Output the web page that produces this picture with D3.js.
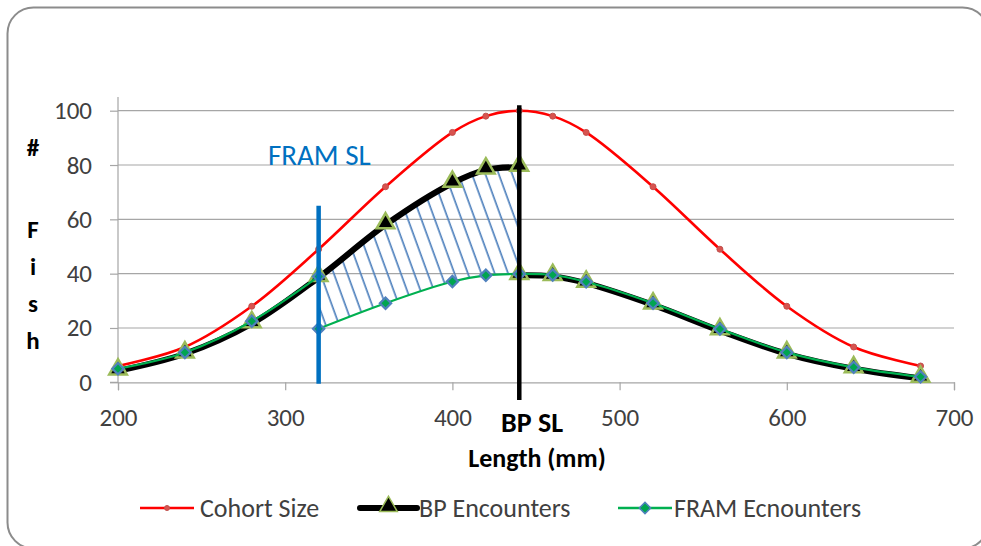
<!DOCTYPE html>
<html>
<head>
<meta charset="utf-8">
<script src="https://cdn.jsdelivr.net/npm/d3@7"></script>
<style>
  body { margin: 0; background: #fff; }
  svg { display: block; font-family: Carlito, Lato, "Open Sans", sans-serif; }
</style>
</head>
<body>
<svg id="chart" width="981" height="546"></svg>
<script>
// Chart values
const lengths = [200, 240, 280, 320, 360, 400, 420, 440, 460, 480, 520, 560, 600, 640, 680];
const cohortSize = [6, 13, 28, 49, 72, 92, 98, 100, 98, 92, 72, 49, 28, 13, 6];

// BP and FRAM have a repeated length where they jump at the size limit
const bpLengths = [200, 240, 280, 320, 360, 400, 420, 440, 440, 460, 480, 520, 560, 600, 640, 680];
const bpEncounters = [4.2, 10.5, 21.6, 38.6, 58, 73.3, 78.2, 79.2, 39.4, 39, 36.5, 28.5, 19, 10.5, 5, 1.5];

const framLengths = [200, 240, 280, 320, 320, 360, 400, 420, 440, 460, 480, 520, 560, 600, 640, 680];
const framEncounters = [5, 11, 22.5, 39, 19.7, 29.1, 37.1, 39.4, 39.9, 39.5, 37, 29.1, 19.6, 11, 5.5, 2];

const framSL = 320, framSLRange = [-0.5, 65];
const bpSL = 440, bpSLRange = [-6.5, 102];

const xTicks = [200, 300, 400, 500, 600, 700];
const yTicks = [0, 20, 40, 60, 80, 100];

const svg = d3.select('#chart');

// rounded chart border
svg.append('rect')
  .attr('x', 7.5).attr('y', 7.5)
  .attr('width', 981).attr('height', 541)
  .attr('rx', 26)
  .attr('fill', '#fff')
  .attr('stroke', '#8c8c8c')
  .attr('stroke-width', 2);

const x = d3.scaleLinear().domain([200, 700]).range([118, 954]);
const y = d3.scaleLinear().domain([0, 100]).range([382.3, 110.7]);

// gridlines
svg.append('g')
  .selectAll('line')
  .data(yTicks.filter(d => d > 0))
  .join('line')
  .attr('x1', x(200)).attr('x2', x(700))
  .attr('y1', d => y(d)).attr('y2', d => y(d))
  .attr('stroke', '#a6a6a6')
  .attr('stroke-width', 1.2);

// axes
const yAxis = svg.append('g')
  .attr('transform', `translate(${x(200)},0)`)
  .call(d3.axisLeft(y).tickValues(yTicks).tickSize(8).tickPadding(18));
const xAxis = svg.append('g')
  .attr('transform', `translate(0,${y(0)})`)
  .call(d3.axisBottom(x).tickValues(xTicks).tickSize(8).tickPadding(18));

[yAxis, xAxis].forEach(g => {
  g.select('.domain').attr('stroke', '#a6a6a6').attr('stroke-width', 1.2);
  g.selectAll('.tick line').attr('stroke', '#a6a6a6').attr('stroke-width', 1.2);
  g.selectAll('.tick text')
    .attr('fill', '#404040')
    .style('font-size', '25px')
    .style('font-family', 'Carlito, Lato, sans-serif');
});
yAxis.select('.domain').attr('d', `M-8,${y(0)}H0V97`);
xAxis.selectAll('.tick text').attr('dy', '0.71em');

// hatch between BP and FRAM, from FRAM SL to BP SL
const defs = svg.append('defs');
const hatch = defs.append('pattern')
  .attr('id', 'hatch')
  .attr('patternUnits', 'userSpaceOnUse')
  .attr('width', 12.6).attr('height', 12)
  .attr('patternTransform', 'rotate(-20)');
hatch.append('line')
  .attr('x1', 6).attr('x2', 6).attr('y1', -1).attr('y2', 13)
  .attr('stroke', '#4f81bd')
  .attr('stroke-width', 1.7);

const curve = d3.curveCatmullRom.alpha(0.5);

const hatchLengths = [320, 360, 400, 420, 440];
const hatchData = hatchLengths.map(l => ({
  l,
  top: bpEncounters[bpLengths.indexOf(l)],
  bottom: framEncounters[framLengths.lastIndexOf(l)]
}));

svg.append('path')
  .datum(hatchData)
  .attr('fill', 'url(#hatch)')
  .attr('d', d3.area()
    .x(d => x(d.l))
    .y0(d => y(d.bottom))
    .y1(d => y(d.top))
    .curve(curve));

// split a series into runs where a length repeats (vertical jump)
function runs(ls, vs) {
  const out = [[]];
  ls.forEach((l, i) => {
    if (i > 0 && l === ls[i - 1]) out.push([]);
    out[out.length - 1].push([l, vs[i]]);
  });
  return out;
}

const line = d3.line().x(d => x(d[0])).y(d => y(d[1])).curve(curve);

// Cohort Size
svg.append('path')
  .datum(lengths.map((l, i) => [l, cohortSize[i]]))
  .attr('fill', 'none')
  .attr('stroke', '#ff0000')
  .attr('stroke-width', 2.6)
  .attr('d', line);
svg.append('g')
  .selectAll('circle')
  .data(lengths.map((l, i) => [l, cohortSize[i]]))
  .join('circle')
  .attr('cx', d => x(d[0])).attr('cy', d => y(d[1]))
  .attr('r', 3)
  .attr('fill', '#d9534f')
  .attr('stroke', '#c0504d')
  .attr('stroke-width', 1);

// BP Encounters
svg.append('g')
  .selectAll('path')
  .data(runs(bpLengths, bpEncounters))
  .join('path')
  .attr('fill', 'none')
  .attr('stroke', '#000')
  .attr('stroke-width', 6)
  .attr('d', line);

const tri = d3.symbol().type(d3.symbolTriangle).size(135);
svg.append('g')
  .selectAll('path')
  .data(bpLengths.map((l, i) => [l, bpEncounters[i]]))
  .join('path')
  .attr('transform', d => `translate(${x(d[0])},${y(d[1]) - 1.5})`)
  .attr('d', tri)
  .attr('fill', '#000')
  .attr('stroke', '#9bbb59')
  .attr('stroke-width', 2.5);

// FRAM Encounters
svg.append('g')
  .selectAll('path')
  .data(runs(framLengths, framEncounters))
  .join('path')
  .attr('fill', 'none')
  .attr('stroke', '#00b050')
  .attr('stroke-width', 2.2)
  .attr('d', line);

const diamond = d3.symbol().type(d3.symbolSquare).size(64);
svg.append('g')
  .selectAll('path')
  .data(framLengths.map((l, i) => [l, framEncounters[i]]))
  .join('path')
  .attr('transform', d => `translate(${x(d[0])},${y(d[1])}) rotate(45)`)
  .attr('d', diamond)
  .attr('fill', '#00a550')
  .attr('stroke', '#4f81bd')
  .attr('stroke-width', 2.2);

// size limit lines
svg.append('line')
  .attr('x1', x(framSL)).attr('x2', x(framSL))
  .attr('y1', y(framSLRange[0])).attr('y2', y(framSLRange[1]))
  .attr('stroke', '#0070c0')
  .attr('stroke-width', 4.5);
svg.append('line')
  .attr('x1', x(bpSL)).attr('x2', x(bpSL))
  .attr('y1', y(bpSLRange[0])).attr('y2', y(bpSLRange[1]))
  .attr('stroke', '#000')
  .attr('stroke-width', 4.5);

// labels
svg.append('text')
  .attr('x', 268).attr('y', 165)
  .attr('fill', '#0070c0')
  .style('font-size', '29px')
  .text('FRAM SL');
svg.append('text')
  .attr('x', 532).attr('y', 432)
  .attr('text-anchor', 'middle')
  .attr('fill', '#000')
  .style('font-size', '28px')
  .style('font-weight', 'bold')
  .text('BP SL');
svg.append('text')
  .attr('x', 537).attr('y', 467)
  .attr('text-anchor', 'middle')
  .attr('fill', '#000')
  .style('font-size', '26px')
  .style('font-weight', 'bold')
  .text('Length (mm)');

// stacked y-axis title
const yTitle = ['#', '', 'F', 'i', 's', 'h'];
const yTitlePos = [147, 188, 229, 266, 303, 340];
svg.append('g')
  .selectAll('text')
  .data(yTitle)
  .join('text')
  .attr('x', 33)
  .attr('y', (d, i) => yTitlePos[i])
  .attr('dy', '0.35em')
  .attr('text-anchor', 'middle')
  .style('font-size', '25px')
  .style('font-weight', 'bold')
  .text(d => d);

// legend
const legend = [
  { name: 'Cohort Size', x0: 140, x1: 194, tx: 200 },
  { name: 'BP Encounters', x0: 360, x1: 417, tx: 419 },
  { name: 'FRAM Ecnounters', x0: 618, x1: 672, tx: 674 }
];
const ly = 508;
const lg = svg.append('g');
const mid = d => (d.x0 + d.x1) / 2;

lg.append('line').attr('x1', legend[0].x0).attr('x2', legend[0].x1)
  .attr('y1', ly).attr('y2', ly).attr('stroke', '#ff0000').attr('stroke-width', 2.6);
lg.append('circle').attr('cx', mid(legend[0])).attr('cy', ly).attr('r', 2.5)
  .attr('fill', '#d9534f').attr('stroke', '#c0504d');

lg.append('line').attr('x1', legend[1].x0).attr('x2', legend[1].x1)
  .attr('y1', ly).attr('y2', ly).attr('stroke', '#000').attr('stroke-width', 6)
  .attr('stroke-linecap', 'round');
lg.append('path').attr('transform', `translate(${mid(legend[1])},${ly - 1.5})`)
  .attr('d', tri).attr('fill', '#000').attr('stroke', '#9bbb59').attr('stroke-width', 1.5);

lg.append('line').attr('x1', legend[2].x0).attr('x2', legend[2].x1)
  .attr('y1', ly).attr('y2', ly).attr('stroke', '#00b050').attr('stroke-width', 2.6);
lg.append('path').attr('transform', `translate(${mid(legend[2])},${ly}) rotate(45)`)
  .attr('d', diamond).attr('fill', '#00a550').attr('stroke', '#4f81bd').attr('stroke-width', 1.5);

lg.selectAll('text')
  .data(legend)
  .join('text')
  .attr('x', d => d.tx)
  .attr('y', ly)
  .attr('dy', '0.35em')
  .attr('fill', '#404040')
  .style('font-size', '26px')
  .text(d => d.name);
</script>
</body>
</html>
